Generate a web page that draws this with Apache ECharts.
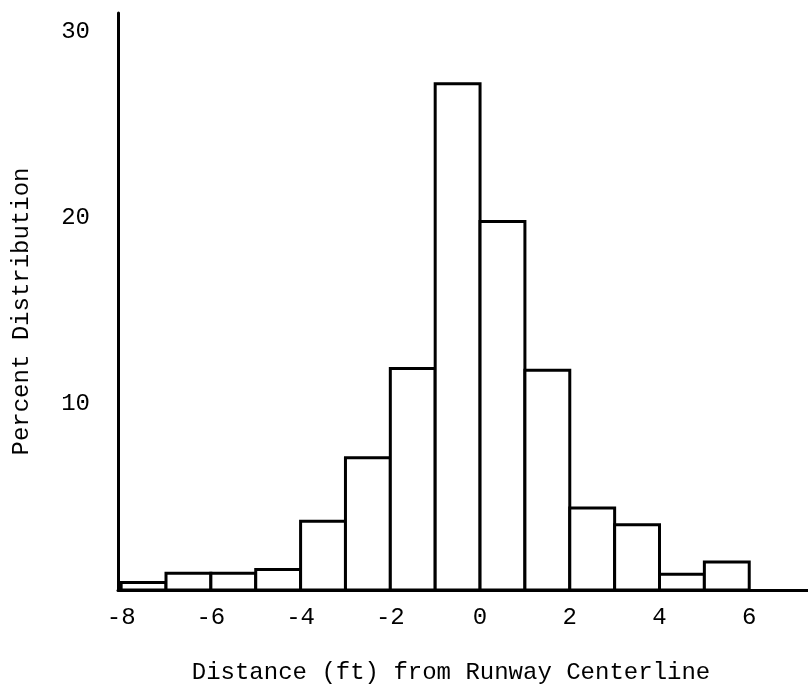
<!DOCTYPE html>
<html>
<head>
<meta charset="utf-8">
<script src="https://cdn.jsdelivr.net/npm/echarts@6/dist/echarts.min.js"></script>
<style>
html,body{margin:0;padding:0;background:#fff;}
#chart{width:808px;height:690px;}
</style>
</head>
<body>
<div id="chart"></div>
<script>
// Histogram bins (ft from runway centerline)
var binStarts = [-8, -7, -6, -5, -4, -3, -2, -1, 0, 1, 2, 3, 4, 5];
var binEnds   = [-7, -6, -5, -4, -3, -2, -1, 0, 1, 2, 3, 4, 5, 6];
var percents  = [0.4, 0.9, 0.9, 1.1, 3.7, 7.1, 11.9, 27.2, 19.8, 11.8, 4.4, 3.5, 0.85, 1.5];
var xTickLabels = [-8, -6, -4, -2, 0, 2, 4, 6];
var yTickLabels = [10, 20, 30];

var data = binStarts.map(function (s, i) { return [s, binEnds[i], percents[i]]; });
var font = '"Liberation Mono", "DejaVu Sans Mono", monospace';

var chart = echarts.init(document.getElementById('chart'), null, {renderer: 'canvas'});
chart.setOption({
  animation: false,
  backgroundColor: '#fff',
  grid: {left: 118, right: 0, top: 13, bottom: 98, containLabel: false},
  xAxis: {
    type: 'value', min: -8.07, max: 7.31,
    name: 'Distance (ft) from Runway Centerline',
    nameLocation: 'middle', nameGap: 71,
    nameTextStyle: {fontFamily: font, fontSize: 24, color: '#000', padding: [0, 24, 0, 0]},
    axisLine: {show: true, onZero: false, lineStyle: {color: '#000', width: 3}},
    axisTick: {show: false},
    splitLine: {show: false},
    axisLabel: {customValues: xTickLabels, fontFamily: font, fontSize: 24, color: '#000', margin: 16}
  },
  yAxis: {
    type: 'value', min: 0, max: 31,
    name: 'Percent Distribution',
    nameLocation: 'middle', nameGap: 84,
    nameTextStyle: {fontFamily: font, fontSize: 24, color: '#000', padding: [0, 20, 0, 0]},
    axisLine: {show: true, onZero: false, lineStyle: {color: '#000', width: 3}},
    axisTick: {show: false},
    splitLine: {show: false},
    axisLabel: {customValues: yTickLabels, fontFamily: font, fontSize: 24, color: '#000', margin: 28}
  },
  series: [{
    type: 'custom',
    data: data,
    encode: {x: [0, 1], y: 2},
    renderItem: function (params, api) {
      var p0 = api.coord([api.value(0), api.value(2)]);
      var p1 = api.coord([api.value(1), 0]);
      return {
        type: 'rect',
        shape: {x: p0[0], y: p0[1], width: p1[0] - p0[0], height: p1[1] - p0[1]},
        style: {fill: '#fff', stroke: '#000', lineWidth: 3}
      };
    }
  }]
});
</script>
</body>
</html>
